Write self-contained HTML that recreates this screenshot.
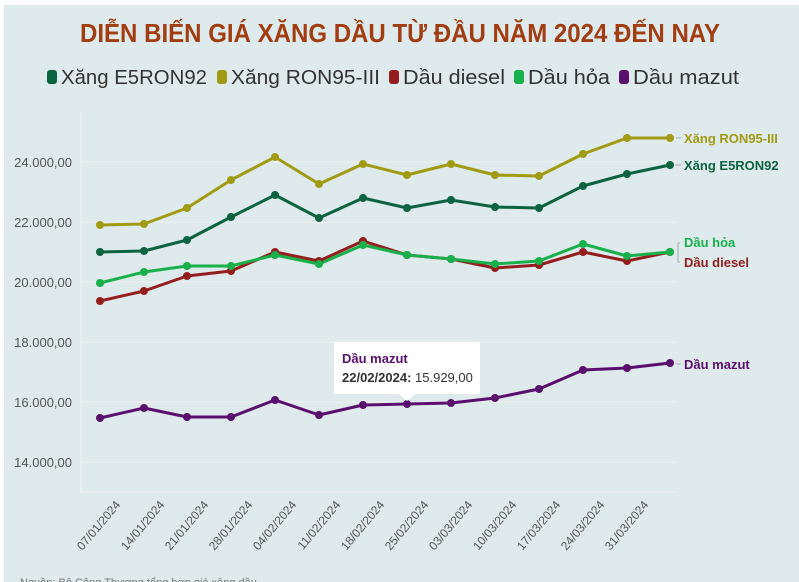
<!DOCTYPE html>
<html><head><meta charset="utf-8"><style>
html,body{margin:0;padding:0;background:#fff;width:799px;height:582px;overflow:hidden}
svg{display:block;font-family:"Liberation Sans","DejaVu Sans",sans-serif}
</style></head><body>
<svg width="799" height="582" viewBox="0 0 799 582" xmlns="http://www.w3.org/2000/svg">
<rect x="4" y="5" width="795" height="577" fill="#deeaeb"/>
<text x="80" y="42" textLength="640" lengthAdjust="spacingAndGlyphs" font-size="26" font-weight="bold" fill="#a23d12">DIỄN BIẾN GIÁ XĂNG DẦU TỪ ĐẦU NĂM 2024 ĐẾN NAY</text>
<g font-size="20" fill="#333">
<rect x="47" y="70" width="10" height="14" rx="3" fill="#0b6340"/><text x="61" y="84" textLength="146" lengthAdjust="spacingAndGlyphs">Xăng E5RON92</text>
<rect x="217" y="70" width="10" height="14" rx="3" fill="#a19b14"/><text x="231" y="84" textLength="149" lengthAdjust="spacingAndGlyphs">Xăng RON95-III</text>
<rect x="389" y="70" width="10" height="14" rx="3" fill="#941d1d"/><text x="403" y="84" textLength="102" lengthAdjust="spacingAndGlyphs">Dầu diesel</text>
<rect x="514" y="70" width="10" height="14" rx="3" fill="#17b04a"/><text x="528" y="84" textLength="82" lengthAdjust="spacingAndGlyphs">Dầu hỏa</text>
<rect x="619" y="70" width="10" height="14" rx="3" fill="#5a0f6e"/><text x="633" y="84" textLength="106" lengthAdjust="spacingAndGlyphs">Dầu mazut</text>
</g>
<g stroke="#f1f1f1" stroke-width="1">
<line x1="81" y1="162" x2="676" y2="162"/><line x1="81" y1="222" x2="676" y2="222"/>
<line x1="81" y1="282" x2="676" y2="282"/><line x1="81" y1="342" x2="676" y2="342"/>
<line x1="81" y1="402" x2="676" y2="402"/><line x1="81" y1="462" x2="676" y2="462"/>
<line x1="81" y1="112" x2="81" y2="492"/>
<line x1="81" y1="492" x2="676" y2="492"/>
</g>
<g font-size="13" fill="#555" text-anchor="end">
<text x="72" y="167">24.000,00</text><text x="72" y="227">22.000,00</text><text x="72" y="287">20.000,00</text>
<text x="72" y="347">18.000,00</text><text x="72" y="407">16.000,00</text><text x="72" y="467">14.000,00</text>
</g>
<g font-size="12" fill="#555" text-anchor="end">
<text transform="translate(121,505) rotate(-50)">07/01/2024</text>
<text transform="translate(165,505) rotate(-50)">14/01/2024</text>
<text transform="translate(209,505) rotate(-50)">21/01/2024</text>
<text transform="translate(253,505) rotate(-50)">28/01/2024</text>
<text transform="translate(297,505) rotate(-50)">04/02/2024</text>
<text transform="translate(341,505) rotate(-50)">11/02/2024</text>
<text transform="translate(385,505) rotate(-50)">18/02/2024</text>
<text transform="translate(429,505) rotate(-50)">25/02/2024</text>
<text transform="translate(473,505) rotate(-50)">03/03/2024</text>
<text transform="translate(517,505) rotate(-50)">10/03/2024</text>
<text transform="translate(561,505) rotate(-50)">17/03/2024</text>
<text transform="translate(605,505) rotate(-50)">24/03/2024</text>
<text transform="translate(649,505) rotate(-50)">31/03/2024</text>
</g>
<g fill="none" stroke-width="3" stroke-linejoin="round">
<polyline stroke="#a19b14" points="100,225 144,224 187,208 231,180 275,157 319,184 363,164 407,175 451,164 495,175 539,176 583,154 627,138 670,138"/>
<polyline stroke="#0b6340" points="100,252 144,251 187,240 231,217 275,195 319,218 363,198 407,208 451,200 495,207 539,208 583,186 627,174 670,165"/>
<polyline stroke="#941d1d" points="100,301 144,291 187,276 231,271 275,252 319,261 363,241 407,255 451,259 495,268 539,265 583,252 627,261 670,252"/>
<polyline stroke="#17b04a" points="100,283 144,272 187,266 231,266 275,255 319,264 363,245 407,255 451,259 495,264 539,261 583,244 627,256 670,252"/>
<polyline stroke="#5a0f6e" points="100,418 144,408 187,417 231,417 275,400 319,415 363,405 407,404 451,403 495,398 539,389 583,370 627,368 670,363"/>
</g>
<g>
<g fill="#a19b14"><circle cx="100" cy="225" r="4"/><circle cx="144" cy="224" r="4"/><circle cx="187" cy="208" r="4"/><circle cx="231" cy="180" r="4"/><circle cx="275" cy="157" r="4"/><circle cx="319" cy="184" r="4"/><circle cx="363" cy="164" r="4"/><circle cx="407" cy="175" r="4"/><circle cx="451" cy="164" r="4"/><circle cx="495" cy="175" r="4"/><circle cx="539" cy="176" r="4"/><circle cx="583" cy="154" r="4"/><circle cx="627" cy="138" r="4"/><circle cx="670" cy="138" r="4"/></g>
<g fill="#0b6340"><circle cx="100" cy="252" r="4"/><circle cx="144" cy="251" r="4"/><circle cx="187" cy="240" r="4"/><circle cx="231" cy="217" r="4"/><circle cx="275" cy="195" r="4"/><circle cx="319" cy="218" r="4"/><circle cx="363" cy="198" r="4"/><circle cx="407" cy="208" r="4"/><circle cx="451" cy="200" r="4"/><circle cx="495" cy="207" r="4"/><circle cx="539" cy="208" r="4"/><circle cx="583" cy="186" r="4"/><circle cx="627" cy="174" r="4"/><circle cx="670" cy="165" r="4"/></g>
<g fill="#941d1d"><circle cx="100" cy="301" r="4"/><circle cx="144" cy="291" r="4"/><circle cx="187" cy="276" r="4"/><circle cx="231" cy="271" r="4"/><circle cx="275" cy="252" r="4"/><circle cx="319" cy="261" r="4"/><circle cx="363" cy="241" r="4"/><circle cx="407" cy="255" r="4"/><circle cx="451" cy="259" r="4"/><circle cx="495" cy="268" r="4"/><circle cx="539" cy="265" r="4"/><circle cx="583" cy="252" r="4"/><circle cx="627" cy="261" r="4"/><circle cx="670" cy="252" r="4"/></g>
<g fill="#17b04a"><circle cx="100" cy="283" r="4"/><circle cx="144" cy="272" r="4"/><circle cx="187" cy="266" r="4"/><circle cx="231" cy="266" r="4"/><circle cx="275" cy="255" r="4"/><circle cx="319" cy="264" r="4"/><circle cx="363" cy="245" r="4"/><circle cx="407" cy="255" r="4"/><circle cx="451" cy="259" r="4"/><circle cx="495" cy="264" r="4"/><circle cx="539" cy="261" r="4"/><circle cx="583" cy="244" r="4"/><circle cx="627" cy="256" r="4"/><circle cx="670" cy="252" r="4"/></g>
<g fill="#5a0f6e"><circle cx="100" cy="418" r="4"/><circle cx="144" cy="408" r="4"/><circle cx="187" cy="417" r="4"/><circle cx="231" cy="417" r="4"/><circle cx="275" cy="400" r="4"/><circle cx="319" cy="415" r="4"/><circle cx="363" cy="405" r="4"/><circle cx="407" cy="404" r="4"/><circle cx="451" cy="403" r="4"/><circle cx="495" cy="398" r="4"/><circle cx="539" cy="389" r="4"/><circle cx="583" cy="370" r="4"/><circle cx="627" cy="368" r="4"/><circle cx="670" cy="363" r="4"/></g>
</g>
<g stroke="#aaa" stroke-width="1" fill="none">
<line x1="676" y1="138" x2="681" y2="138"/><line x1="676" y1="165" x2="681" y2="165"/>
<line x1="676" y1="364" x2="681" y2="364"/>
<path d="M680,243 L678,243 L678,262 L680,262"/>
</g>
<g font-size="13" font-weight="bold">
<text x="684" y="143" fill="#a19b14">Xăng RON95-III</text>
<text x="684" y="170" fill="#0b6340">Xăng E5RON92</text>
<text x="684" y="247" fill="#17b04a">Dầu hỏa</text>
<text x="684" y="267" fill="#941d1d">Dầu diesel</text>
<text x="684" y="369" fill="#5a0f6e">Dầu mazut</text>
</g>
<path d="M336,342 H478 Q480,342 480,344 V392 Q480,394 478,394 H415 L407,401 L399,394 H336 Q334,394 334,392 V344 Q334,342 336,342 Z" fill="#fff"/>
<text x="342" y="363" font-size="13" font-weight="bold" fill="#5a0f6e">Dầu mazut</text>
<text x="342" y="382" font-size="13" fill="#333"><tspan font-weight="bold">22/02/2024:</tspan> 15.929,00</text>
<text x="20" y="586" font-size="11" fill="#777">Nguồn: Bộ Công Thương tổng hợp giá xăng dầu</text>
</svg>
</body></html>
